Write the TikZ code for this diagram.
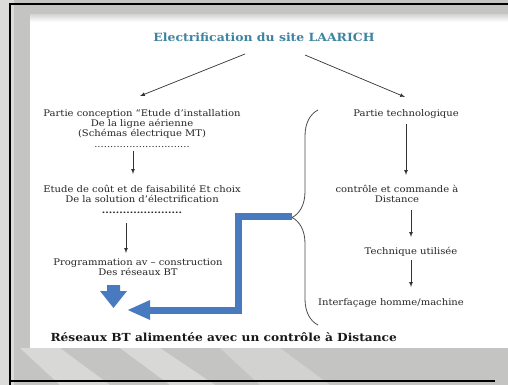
\documentclass[tikz,border=0pt]{standalone}
\usepackage{fontspec}
\setmainfont{DejaVu Serif}[FakeStretch=1.1]
\usepackage{tikz}
\usetikzlibrary{calc,arrows,arrows.meta,decorations.pathreplacing}
\definecolor{titleteal}{RGB}{62,132,160}
\definecolor{arrblue}{RGB}{72,122,192}
\definecolor{bggrey}{RGB}{196,196,194}
\tikzstyle{txt}=[font=\fontsize{9.1}{10}\selectfont,align=center,inner sep=1pt,text=black!85]
\tikzstyle{arr}=[draw=black!80,-latex,line width=0.7pt]
\begin{document}
\begin{tikzpicture}[x=1pt,y=-1pt,
bluelink/.style={draw=arrblue,line width=7pt,line join=miter,-{Triangle[length=23pt,width=18pt]}},
bracestyle/.style={draw=black!70,line width=0.8pt,decorate,decoration={brace,amplitude=26pt}}]
\useasboundingbox (0,0) rectangle (508,385);
\fill[bggrey] (0,0) rectangle (508,385);
\fill[white,opacity=.4] (0,0) -- (14,0) -- (14,385) -- (0,385) -- cycle;
\fill[white,opacity=.35] (60,385) -- (110,385) -- (60,348) -- (20,348) -- cycle;
\fill[white,opacity=.35] (170,385) -- (215,385) -- (160,348) -- (120,348) -- cycle;
\fill[white,opacity=.25] (260,385) -- (330,385) -- (280,348) -- (220,348) -- cycle;
\fill[white] (30,15) rectangle (508,348);
\shade[top color=gray!30,bottom color=white] (30,15) rectangle (508,22);
\draw[line width=2pt] (10,385) -- (10,4) -- (508,4);
\draw[line width=2pt] (10,381) -- (495,381);

\node[font=\bfseries\fontsize{11.3}{12}\selectfont,text=titleteal] (title) at (264,37) {Electrification du site LAARICH};

\node[txt] (conc) at (142,129) {Partie conception “Etude d’installation\\De la ligne aérienne\\(Schémas électrique MT)\\[1pt] ..............................};
\node[txt] (etude) at (142,199) {Etude de coût et de faisabilité Et choix\\De la solution d’électrification\\[1pt] \textbf{.......................}};
\node[txt] (prog) at (138,267) {Programmation av -- construction\\Des réseaux BT};

\node[txt] (techno) at (406,114) {Partie technologique};
\node[txt] (ctrl) at (397,194) {contrôle et commande à\\Distance};
\node[txt] (tech) at (411,252) {Technique utilisée};
\node[txt] (inter) at (391,303) {Interfaçage homme/machine};

\node[font=\bfseries\fontsize{11.1}{12}\selectfont,anchor=west,text=black!90] (result) at (47,337) {Réseaux BT alimentée avec un contrôle à Distance};

\draw[arr] ($(title)+(-19,17)$) -- ($(conc)+(-2,-33)$);
\draw[arr] ($(title)+(41,18)$) -- ($(techno)+(-1,-17)$);
\draw[arr] ($(conc)+(-9,22)$) -- ($(etude)+(-9,-25)$);
\draw[arr] ($(etude)+(-16,24)$) -- ($(prog)+(-12,-14)$);
\draw[arr] ($(techno)+(0,10)$) -- ($(ctrl)+(9,-19)$);
\draw[arr] ($(ctrl)+(14,16)$) -- ($(tech)+(0,-15)$);
\draw[arr] ($(tech)+(0,8)$) -- ($(inter)+(20,-16)$);

\draw[bracestyle] (318,325) -- (318,110);
\coordinate (tip) at (292,216);
\coordinate (bend) at (238,310);
\coordinate (bluend) at (127,310);
\draw[bluelink] (tip) -| (bend) -- (bluend);
\fill[arrblue] (107,285) -- (120,285) -- (120,291) -- (127,291) -- (113.5,308) -- (100,291) -- (107,291) -- cycle;
\end{tikzpicture}
\end{document}
